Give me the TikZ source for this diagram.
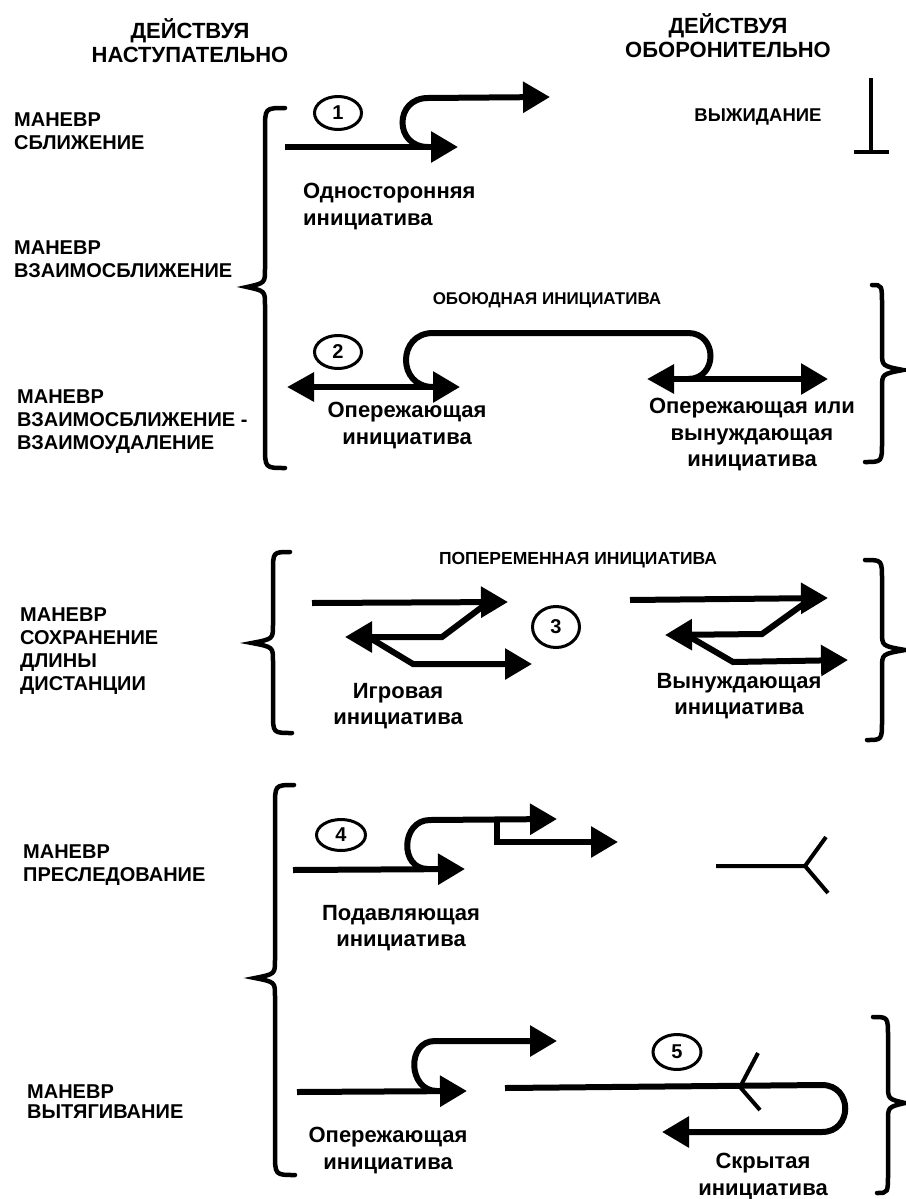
\documentclass[tikz,border=0pt]{standalone}
\usepackage{fontspec}
\setmainfont{Liberation Sans}
\usetikzlibrary{arrows.meta,shapes.geometric}
\tikzset{
  arr/.style={line width=6pt, -{Triangle[length=27pt,width=30pt]}},
  darr/.style={line width=6pt, {Triangle[length=27pt,width=28pt]}-{Triangle[length=27pt,width=30pt]}},
  bar/.style={line width=6pt},
  sym/.style={line width=4pt},
  brace/.style={line width=4.5pt, line cap=round},
  num/.style={ellipse, draw, line width=3pt, inner sep=0pt, font=\fontsize{20}{20}\selectfont\bfseries},
  lbl/.style={anchor=north, inner sep=0pt, align=center, font=\fontsize{22}{26.5}\selectfont\bfseries},
  mcap/.style={anchor=north west, inner sep=0pt, align=left, font=\fontsize{20}{23}\selectfont\bfseries},
  head/.style={anchor=north, inner sep=0pt, align=center, font=\fontsize{22}{24}\selectfont\bfseries},
  small/.style={inner sep=0pt, font=\fontsize{17}{17}\selectfont\bfseries},
}
\begin{document}
\begin{tikzpicture}[x=1pt,y=-1pt]
\useasboundingbox (0,0) rectangle (905,1199);
\fill[white] (0,0) rectangle (905,1199);

% headers
\node[head] (h1) at (190,18) {ДЕЙСТВУЯ\\НАСТУПАТЕЛЬНО};
\node[head] (h2) at (728,13) {ДЕЙСТВУЯ\\ОБОРОНИТЕЛЬНО};

% left captions
\node[mcap] (m1) at (14,113) {МАНЕВР\\СБЛИЖЕНИЕ};
\node[mcap] (m2) at (14,241) {МАНЕВР\\ВЗАИМОСБЛИЖЕНИЕ};
\node[mcap] (m3) at (17,390) {МАНЕВР\\ВЗАИМОСБЛИЖЕНИЕ -\\ВЗАИМОУДАЛЕНИЕ};
\node[mcap] (m4) at (20,608) {МАНЕВР\\СОХРАНЕНИЕ\\ДЛИНЫ\\ДИСТАНЦИИ};
\node[mcap] (m5) at (23,845) {МАНЕВР\\ПРЕСЛЕДОВАНИЕ};
\node[mcap, font=\fontsize{20}{19.5}\selectfont\bfseries] (m6) at (27,1085) {МАНЕВР\\ВЫТЯГИВАНИЕ};

% braces
\draw[brace] (285,108) .. controls (265,108) .. (265,130) -- (265,269) .. controls (265,283) .. (247,287) .. controls (265,291) .. (265,305) -- (265,446) .. controls (265,468) .. (285,468);
\draw[brace] (872,285) .. controls (882,285) .. (882,305) -- (882,352) .. controls (882,366) .. (903,370) .. controls (882,374) .. (882,388) -- (882,442) .. controls (882,462) .. (865,462);
\draw[brace] (290,552) .. controls (273,552) .. (273,572) -- (273,625) .. controls (273,639) .. (252,643) .. controls (273,647) .. (273,661) -- (273,713) .. controls (273,733) .. (292,733);
\draw[brace] (865,560) .. controls (882,560) .. (882,580) -- (882,632) .. controls (882,646) .. (905,650) .. controls (882,654) .. (882,668) -- (882,720) .. controls (882,740) .. (867,740);
\draw[brace] (294,785) .. controls (275,785) .. (275,807) -- (275,960) .. controls (275,974) .. (255,978) .. controls (275,982) .. (275,996) -- (275,1153) .. controls (275,1175) .. (295,1175);
\draw[brace] (873,1017) .. controls (888,1017) .. (888,1037) -- (888,1085) .. controls (888,1099) .. (905,1103) .. controls (888,1107) .. (888,1121) -- (888,1173) .. controls (888,1193) .. (877,1193);

% 1
\node[num, minimum width=47pt, minimum height=33pt] (n1) at (338,113) {1};
\draw[arr] (285,147) -- (458,147);
\draw[arr] (428,147) .. controls +(-34,0) and +(-34,0) .. (428,98) -- (550,97);
\node[lbl, anchor=north west, align=left] (l1) at (303,183) {Односторонняя\\инициатива};
\node[small, font=\fontsize{18.5}{18.5}\selectfont\bfseries] (w) at (758,117) {ВЫЖИДАНИЕ};
\draw[sym] (871,78) -- (871,152) (854,152) -- (889,152);

% 2
\node[small] (ob) at (547,300) {ОБОЮДНАЯ ИНИЦИАТИВА};
\node[num, minimum width=47pt, minimum height=33pt] (n2) at (338,352) {2};
\draw[darr] (287,387) -- (460,387);
\draw[bar] (433,387) .. controls +(-36,0) and +(-36,0) .. (433,333) -- (688,333) .. controls +(30,0) and +(30,0) .. (688,379);
\draw[darr] (647,379) -- (828,379);
\node[lbl] (l2) at (407,402) {Опережающая\\инициатива};
\node[lbl] (l3) at (752,398) {Опережающая или\\вынуждающая\\инициатива};

% 3
\node[small, font=\fontsize{17.5}{17.5}\selectfont\bfseries] (pp) at (578,560) {ПОПЕРЕМЕННАЯ ИНИЦИАТИВА};
\node[num, minimum width=47pt, minimum height=41pt] (n3) at (556,627) {3};
\draw[arr] (312,603) -- (508,602);
\draw[arr] (486,604) -- (442,637) -- (345,637);
\draw[arr] (370,638) -- (413,664) -- (532,664);
\draw[arr] (630,600) -- (828,598);
\draw[arr] (805,603) -- (762,634) -- (665,635);
\draw[arr] (690,637) -- (733,662) -- (848,660);
\node[lbl] (l4) at (398,683) {Игровая\\инициатива};
\node[lbl] (l5) at (739,673) {Вынуждающая\\инициатива};

% 4
\node[num, minimum width=49pt, minimum height=31pt] (n4) at (341,835) {4};
\draw[arr] (293,870) -- (465,869);
\draw[arr] (428,869) .. controls +(-29,0) and +(-29,0) .. (430,820) -- (557,819);
\draw[arr] (497,817) -- (497,842) -- (618,842);
\draw[sym] (716,866) -- (805,866) (826,837) -- (805,866) -- (828,893);
\node[lbl] (l6) at (401,905) {Подавляющая\\инициатива};

% 5
\node[num, minimum width=48pt, minimum height=35pt] (n5) at (677,1052) {5};
\draw[arr] (297,1092) -- (467,1091);
\draw[arr] (437,1091) .. controls +(-29,0) and +(-29,0) .. (435,1041) -- (557,1041);
\draw[arr] (505,1088) -- (822,1085) .. controls +(31,0) and +(31,0) .. (822,1132) -- (662,1132);
\draw[sym] (758,1053) -- (740,1087) -- (760,1110);
\node[lbl] (l7) at (388,1127) {Опережающая\\инициатива};
\node[lbl] (l8) at (763,1153) {Скрытая\\инициатива};
\end{tikzpicture}
\end{document}
